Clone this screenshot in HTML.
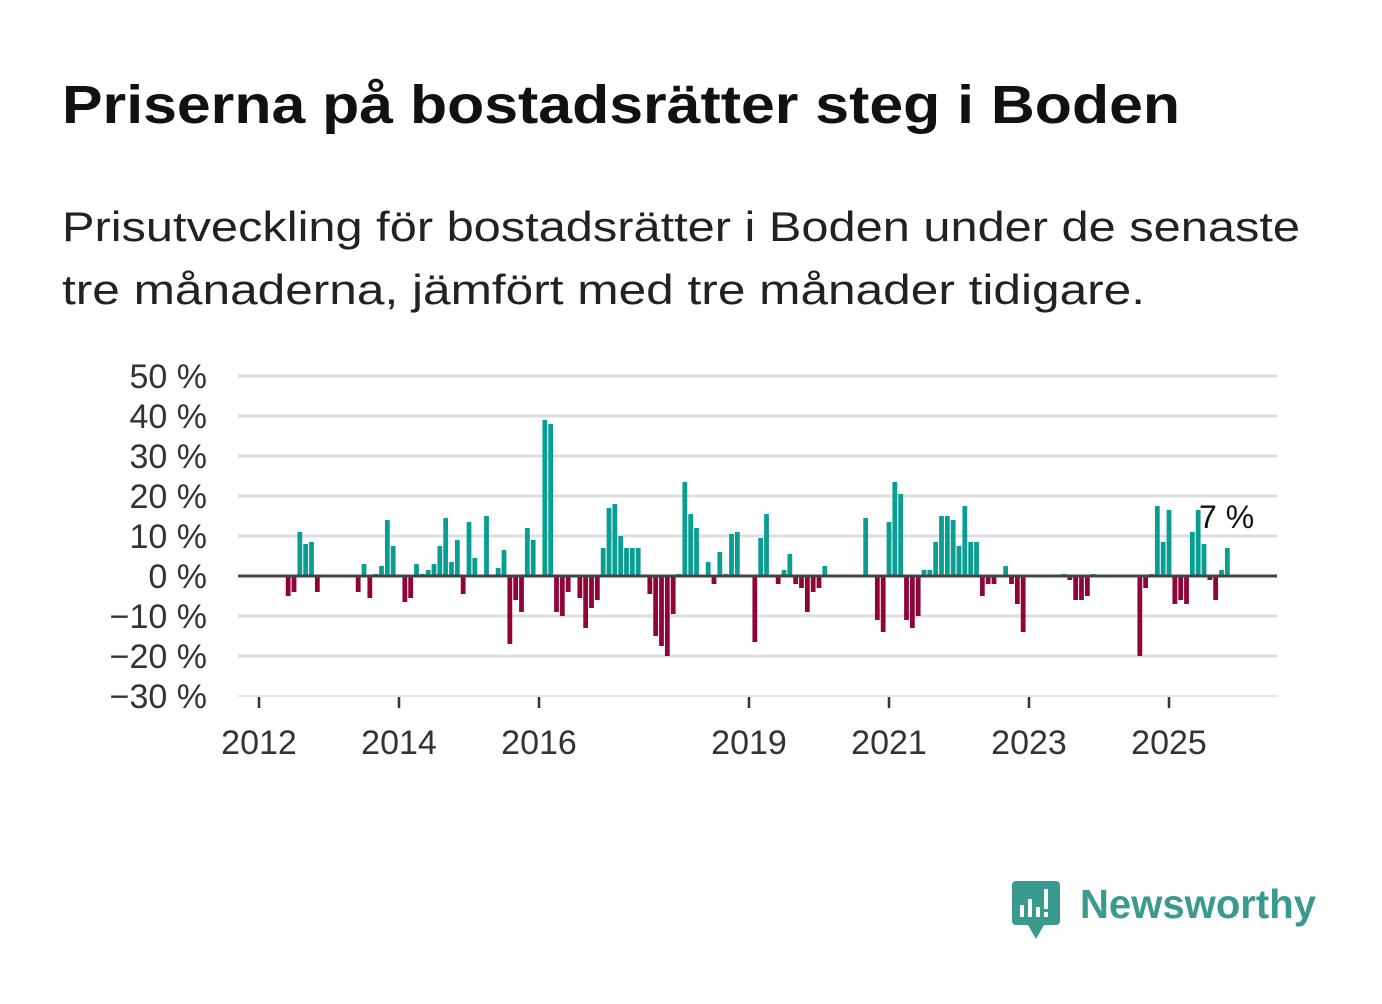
<!DOCTYPE html>
<html><head><meta charset="utf-8"><style>
body{margin:0;background:#fff;width:1382px;height:999px;overflow:hidden;font-family:"Liberation Sans","DejaVu Sans",sans-serif}
</style></head><body>
<svg width="1382" height="999">
<text x="62" y="123" font-size="54" font-weight="bold" fill="#111" textLength="1118" lengthAdjust="spacingAndGlyphs">Priserna på bostadsrätter steg i Boden</text>
<text x="62" y="241" font-size="42" fill="#222" textLength="1238" lengthAdjust="spacingAndGlyphs">Prisutveckling för bostadsrätter i Boden under de senaste</text>
<text x="62" y="304" font-size="42" fill="#222" textLength="1083" lengthAdjust="spacingAndGlyphs">tre månaderna, jämfört med tre månader tidigare.</text>
<g id="grid"></g><g id="bars"></g><g id="axes"></g>
<g>
<rect x="1012" y="881" width="48" height="44" rx="4" fill="#3a9a8f"/>
<polygon points="1028,925 1044,925 1036,939" fill="#3a9a8f"/>
<rect x="1020" y="905" width="4" height="12" fill="#fff"/><rect x="1028" y="899" width="4" height="18" fill="#fff"/><rect x="1036" y="907" width="4" height="10" fill="#fff"/><rect x="1044" y="889" width="4" height="20" fill="#fff"/><rect x="1044" y="912" width="4" height="5" fill="#fff"/>
<text x="1080" y="918" font-size="41" font-weight="bold" fill="#3a9a8f" textLength="236" lengthAdjust="spacingAndGlyphs">Newsworthy</text>
</g>
</svg>
<script>
const months=["2012-06","2012-07","2012-08","2012-09","2012-10","2012-11","2013-06","2013-07","2013-08","2013-09","2013-10","2013-11","2013-12","2014-02","2014-03","2014-04","2014-05","2014-06","2014-07","2014-08","2014-09","2014-10","2014-11","2014-12","2015-01","2015-02","2015-04","2015-06","2015-07","2015-08","2015-09","2015-10","2015-11","2015-12","2016-02","2016-03","2016-04","2016-05","2016-06","2016-08","2016-09","2016-10","2016-11","2016-12","2017-01","2017-02","2017-03","2017-04","2017-05","2017-06","2017-08","2017-09","2017-10","2017-11","2017-12","2018-01","2018-02","2018-03","2018-04","2018-06","2018-07","2018-08","2018-09","2018-10","2018-11","2019-02","2019-03","2019-04","2019-06","2019-07","2019-08","2019-09","2019-10","2019-11","2019-12","2020-01","2020-02","2020-09","2020-11","2020-12","2021-01","2021-02","2021-03","2021-04","2021-05","2021-06","2021-07","2021-08","2021-09","2021-10","2021-11","2021-12","2022-01","2022-02","2022-03","2022-04","2022-05","2022-06","2022-07","2022-09","2022-10","2022-11","2022-12","2023-07","2023-08","2023-09","2023-10","2023-11","2023-12","2024-08","2024-09","2024-10","2024-11","2024-12","2025-01","2025-02","2025-03","2025-04","2025-05","2025-06","2025-07","2025-08","2025-09","2025-10","2025-11"];
const values=[-5,-4,11,8,8.5,-4,-4,3,-5.5,0.5,2.5,14,7.5,-6.5,-5.5,3,0.5,1.5,3,7.5,14.5,3.5,9,-4.5,13.5,4.5,15,2,6.5,-17,-6,-9,12,9,39,38,-9,-10,-4,-5.5,-13,-8,-6,7,17,18,10,7,7,7,-4.5,-15,-17.5,-20,-9.5,0.5,23.5,15.5,12,3.5,-2,6,0.5,10.5,11,-16.5,9.5,15.5,-2,1.5,5.5,-2,-3,-9,-4,-3,2.5,14.5,-11,-14,13.5,23.5,20.5,-11,-13,-10,1.5,1.5,8.5,15,15,14,7.5,17.5,8.5,8.5,-5,-2,-2,2.5,-2,-7,-14,0.5,-1,-6,-6,-5,0.5,-20,-3,0.5,17.5,8.5,16.5,-7,-6,-7,11,16.5,8,-1,-6,1.5,7];
const yTicks=[50,40,30,20,10,0,-10,-20,-30];
const xTickYears=[2012,2014,2016,2019,2021,2023,2025];
const NS="http://www.w3.org/2000/svg";
const y=v=>576-v*4;
const x=m=>{const [a,b]=m.split("-").map(Number);return 259+((a-2012)*12+(b-1))*70/12;};
function mk(t,a,p){const e=document.createElementNS(NS,t);for(const k in a)e.setAttribute(k,a[k]);p.appendChild(e);return e;}
const grid=document.getElementById("grid"),bars=document.getElementById("bars"),axes=document.getElementById("axes");
yTicks.forEach(v=>{
 const l=mk("line",{x1:238,x2:1277,y1:y(v),y2:y(v),stroke:"#ddd","stroke-width":v===-30?1.5:3},grid);
 
 
 const t=mk("text",{x:207,y:y(v)+12,"text-anchor":"end","font-size":34,fill:"#333"},grid);
 t.textContent=(v<0?"\u2212"+(-v):v)+" %";
 
 
});
months.forEach((m,i)=>{
 const v=values[i],cx=x(m);
 const r=mk("rect",{x:cx-2.4,width:4.8,y:Math.min(y(v),576),height:Math.abs(y(v)-576),fill:v>=0?"#0a9e92":"#8f0538"},bars);
 
 
});
const z=mk("line",{x1:238,x2:1277,y1:576,y2:576,stroke:"#444","stroke-width":3},axes);


xTickYears.forEach(yr=>{
 const cx=x(yr+"-01");
 const tk=mk("line",{x1:cx,x2:cx,y1:697,y2:708,stroke:"#333","stroke-width":2.5},axes);
 
 
 const t=mk("text",{x:cx,y:754,"text-anchor":"middle","font-size":34,fill:"#333"},axes);
 t.textContent=yr;
 
 
});
const lastI=values.length-1;
const lab=mk("text",{x:1199,y:528,"font-size":32,fill:"#111"},axes);
lab.textContent=values[lastI]+" %";


</script>
</body></html>
